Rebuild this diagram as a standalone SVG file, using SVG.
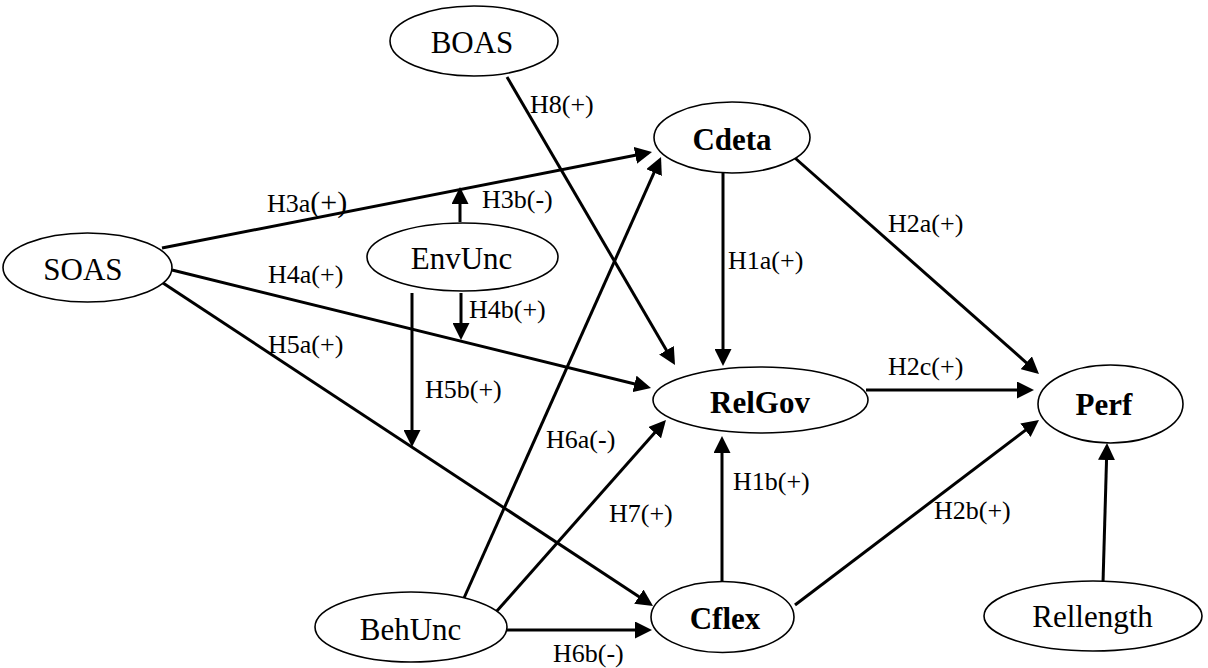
<svg xmlns="http://www.w3.org/2000/svg" width="1208" height="668" viewBox="0 0 1208 668">
<style>
.node ellipse{fill:#fff;stroke:#000;stroke-width:1.6}
.node text{font-family:'Liberation Serif','DejaVu Serif',serif;font-size:31px;text-anchor:middle;fill:#000}
.node text.b{font-weight:bold}
.edges line{stroke:#000;stroke-width:3;marker-end:url(#arr)}
.lbl{font-family:'Liberation Serif','DejaVu Serif',serif;font-size:26px;fill:#000}
</style>
<defs>
<marker id="arr" markerUnits="userSpaceOnUse" markerWidth="17" markerHeight="17" refX="13" refY="8.5" orient="auto" viewBox="0 0 17 17">
<path d="M0,0 L17,8.5 L0,17 z" fill="#000"/>
</marker>
</defs>
<rect width="1208" height="668" fill="#fff"/>
<g class="edges">
<line x1="162" y1="248" x2="648.1" y2="152.8"/>
<line x1="460" y1="222" x2="460" y2="191"/>
<line x1="172" y1="270" x2="647.1" y2="387"/>
<line x1="461" y1="293" x2="461" y2="336"/>
<line x1="163" y1="283" x2="649.7" y2="603.8"/>
<line x1="412" y1="293" x2="412" y2="443"/>
<line x1="507" y1="77" x2="673" y2="361.5"/>
<line x1="464" y1="598" x2="659.4" y2="160.7"/>
<line x1="496" y1="612" x2="663.3" y2="423"/>
<line x1="507" y1="630" x2="648" y2="630"/>
<line x1="723" y1="173" x2="723" y2="362"/>
<line x1="722" y1="583" x2="722" y2="440"/>
<line x1="795" y1="158" x2="1036" y2="371.3"/>
<line x1="866" y1="390" x2="1030" y2="390"/>
<line x1="795" y1="605" x2="1035.8" y2="422.4"/>
<line x1="1103" y1="583" x2="1106.9" y2="447"/>
</g>
<g id="BOAS" class="node"><ellipse cx="474" cy="41" rx="84" ry="35"/><text x="472" y="53">BOAS</text></g>
<g id="Cdeta" class="node"><ellipse cx="732" cy="137.5" rx="78" ry="35.5"/><text class="b" x="732" y="150">Cdeta</text></g>
<g id="SOAS" class="node"><ellipse cx="87.5" cy="267.5" rx="84.5" ry="34.5"/><text x="83" y="280">SOAS</text></g>
<g id="EnvUnc" class="node"><ellipse cx="462.5" cy="257" rx="95.5" ry="34"/><text x="461.5" y="269">EnvUnc</text></g>
<g id="RelGov" class="node"><ellipse cx="760.5" cy="400" rx="107.5" ry="33"/><text class="b" x="760" y="413">RelGov</text></g>
<g id="Perf" class="node"><ellipse cx="1110.5" cy="404" rx="72.5" ry="39"/><text class="b" x="1104" y="415">Perf</text></g>
<g id="BehUnc" class="node"><ellipse cx="411" cy="627" rx="96" ry="35"/><text x="410.5" y="640">BehUnc</text></g>
<g id="Cflex" class="node"><ellipse cx="722.5" cy="617" rx="71.5" ry="35.5"/><text class="b" x="725" y="629">Cflex</text></g>
<g id="Rellength" class="node"><ellipse cx="1093" cy="616" rx="109" ry="35"/><text x="1092.5" y="627">Rellength</text></g>
<g id="labels">
<text class="lbl" x="530" y="113">H8(+)</text>
<text class="lbl" x="267" y="212">H3a<tspan font-size="30">(+)</tspan></text>
<text class="lbl" x="482" y="208">H3b(-)</text>
<text class="lbl" x="888" y="232">H2a(+)</text>
<text class="lbl" x="728" y="269">H1a(+)</text>
<text class="lbl" x="268" y="283">H4a(+)</text>
<text class="lbl" x="469" y="318">H4b(+)</text>
<text class="lbl" x="268" y="353">H5a(+)</text>
<text class="lbl" x="425" y="398">H5b(+)</text>
<text class="lbl" x="888" y="375">H2c(+)</text>
<text class="lbl" x="546" y="448">H6a(-)</text>
<text class="lbl" x="733" y="490">H1b(+)</text>
<text class="lbl" x="609" y="522">H7(+)</text>
<text class="lbl" x="934" y="519">H2b(+)</text>
<text class="lbl" x="553" y="662">H6b(-)</text>
</g>
</svg>
